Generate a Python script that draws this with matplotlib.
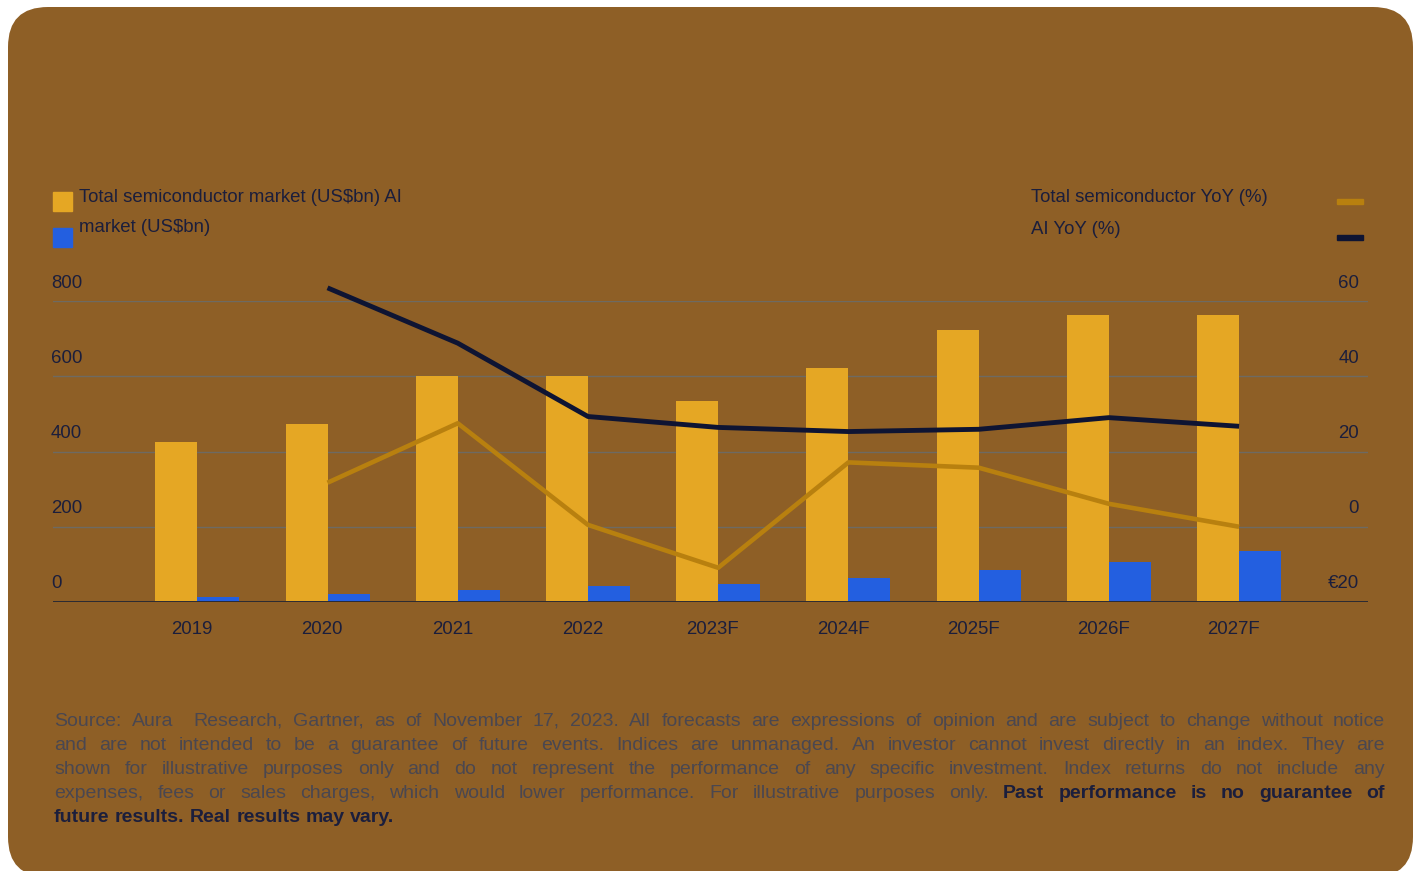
import matplotlib
matplotlib.use("Agg")
import matplotlib.pyplot as plt
import numpy as np
from matplotlib import font_manager
from matplotlib.patches import FancyBboxPatch, Rectangle
from matplotlib.transforms import IdentityTransform, blended_transform_factory, ScaledTranslation

W, H = 1416, 871

years = ["2019", "2020", "2021", "2022", "2023F", "2024F", "2025F", "2026F", "2027F"]
total_market = [424, 472, 600, 600, 533, 621, 723, 763, 763]
ai_market = [14, 21, 32, 43, 48, 64, 85, 107, 136]
total_yoy = [np.nan, 11.7, 27.5, 0.5, -10.9, 17.1, 15.7, 6.1, 0.0]
ai_yoy = [np.nan, 63.5, 48.8, 29.3, 26.4, 25.3, 25.9, 29.0, 26.7]
left_ticks = [0, 200, 400, 600, 800]
right_ticks = [-20, 0, 20, 40, 60]
right_labels = ["€20", "0", "20", "40", "60"]

footnote_lines = [
    [("Source: Aura  Research, Gartner, as of November 17, 2023. All forecasts are expressions of opinion and are subject to change without notice", "normal")],
    [("and are not intended to be a guarantee of future events. Indices are unmanaged. An investor cannot invest directly in an index. They are", "normal")],
    [("shown for illustrative purposes only and do not represent the performance of any specific investment. Index returns do not include any", "normal")],
    [("expenses, fees or sales charges, which would lower performance. For illustrative purposes only.", "normal"),
     ("Past performance is no guarantee of", "bold")],
    [("future results. Real results may vary.", "bold")],
]

BG = "#8e5f26"
YELLOW = "#e5a724"
BLUE = "#235fe0"
GOLD = "#b8800f"
NAVY = "#0e1433"
TEXT = "#1b1e3c"
NOTE = "#4a4750"
GRID = "#6e6a62"
FS = 13.4

plt.rcParams["font.family"] = ["Liberation Sans", "DejaVu Sans"]


def fx(x):
    return x / W


def fy(y):
    return (H - y) / H


fig = plt.figure(figsize=(W / 100, H / 100), dpi=100)
fig.patch.set_facecolor("white")

card = FancyBboxPatch((8, -6), 1405, H - 1, boxstyle="round,pad=0,rounding_size=40",
                      transform=IdentityTransform(), facecolor=BG, edgecolor="none", zorder=-10)
fig.patches.append(card)

ax = fig.add_axes([fx(53), fy(602), fx(1368) - fx(53), fy(301) - fy(602)])
ax.set_facecolor("none")
ax2 = ax.twinx()
ax2.set_facecolor("none")

x = np.arange(len(years))
bw = 0.3225
ax.bar(x - bw, total_market, width=bw, align="edge", color=YELLOW, zorder=3)
ax.bar(x, ai_market, width=bw, align="edge", color=BLUE, zorder=3)

ax.set_xlim(-1.108, 8.99)
ax.set_ylim(0, 800)
ax2.set_ylim(-20, 60)

for v in left_ticks[1:]:
    ax.axhline(v, color=GRID, lw=1.0, zorder=1)
ax.axhline(0, color="#2b2a33", lw=1.4, zorder=4)

ax2.plot(x, total_yoy, color=GOLD, lw=3.3, solid_capstyle="butt", clip_on=False, zorder=5)
ax2.plot(x, ai_yoy, color=NAVY, lw=3.5, solid_capstyle="butt", clip_on=False, zorder=6)

for a in (ax, ax2):
    for s in a.spines.values():
        s.set_visible(False)
    a.set_yticks([])
    a.tick_params(length=0)

ax.set_xticks(x - 0.04)
ax.set_xticklabels(years, fontsize=FS, color=TEXT)
ax.tick_params(axis="x", pad=14)

tl = blended_transform_factory(fig.transFigure, ax.transData)
for v in left_ticks:
    ax.text(fx(51), v, str(v), transform=tl + ScaledTranslation(0, 18 / 100, fig.dpi_scale_trans),
            fontsize=FS, color=TEXT, ha="left", va="center")
tr = blended_transform_factory(fig.transFigure, ax2.transData)
for v, lab in zip(right_ticks, right_labels):
    ax2.text(fx(1359), v, lab, transform=tr + ScaledTranslation(0, 18 / 100, fig.dpi_scale_trans),
             fontsize=FS, color=TEXT, ha="right", va="center")

# legend
fig.patches.append(Rectangle((53, H - 211), 19, 19, transform=IdentityTransform(), color=YELLOW))
fig.patches.append(Rectangle((53, H - 247), 19, 19, transform=IdentityTransform(), color=BLUE))
fig.text(fx(79), fy(197), "Total semiconductor market (US$bn) AI", fontsize=FS, color=TEXT, va="center")
fig.text(fx(79), fy(227), "market (US$bn)", fontsize=FS, color=TEXT, va="center")
fig.text(fx(1031), fy(197), "Total semiconductor YoY (%)", fontsize=FS, color=TEXT, va="center")
fig.text(fx(1031), fy(229), "AI YoY (%)", fontsize=FS, color=TEXT, va="center")
fig.patches.append(Rectangle((1337, H - 204), 26, 5, transform=IdentityTransform(), color=GOLD))
fig.patches.append(Rectangle((1337, H - 240), 26, 5, transform=IdentityTransform(), color=NAVY))

# justified footnote
renderer = fig.canvas.get_renderer()
try:
    font_manager.findfont(font_manager.FontProperties(family="Liberation Sans Narrow"),
                          fallback_to_default=False)
    note_family = ["Liberation Sans Narrow", "DejaVu Sans"]
except ValueError:
    note_family = ["Liberation Sans", "DejaVu Sans"]

x0, x1 = 54, 1385
probe = fig.text(0, 0, footnote_lines[0][0][0].replace("  ", " "), fontsize=13.5, family=note_family)
natural = probe.get_window_extent(renderer).width
probe.remove()
note_size = min(14.0, 13.5 * (x1 - x0 - 12) / natural)

line_y = [721, 745, 769, 793, 817]
for i, (segments, yy) in enumerate(zip(footnote_lines, line_y)):
    tokens = []
    for txt, weight in segments:
        for word in txt.split(" "):
            tokens.append((word, weight))
    artists = []
    for word, weight in tokens:
        t = fig.text(0, fy(yy), word, fontsize=note_size, family=note_family, fontweight=weight,
                     color=NOTE if weight == "normal" else TEXT, va="center", ha="left")
        artists.append(t)
    widths = [t.get_window_extent(renderer).width if t.get_text() else 0 for t in artists]
    if i == len(footnote_lines) - 1:
        sp = fig.text(0, 0, "a b", fontsize=note_size, family=note_family, fontweight="bold")
        sa = fig.text(0, 0, "ab", fontsize=note_size, family=note_family, fontweight="bold")
        gap = sp.get_window_extent(renderer).width - sa.get_window_extent(renderer).width
        sp.remove()
        sa.remove()
    else:
        gap = (x1 - x0 - sum(widths)) / (len(tokens) - 1)
    cx = x0
    for t, w in zip(artists, widths):
        t.set_x(fx(cx))
        cx += w + gap

fig.savefig("out.png", dpi=100, facecolor="white")
